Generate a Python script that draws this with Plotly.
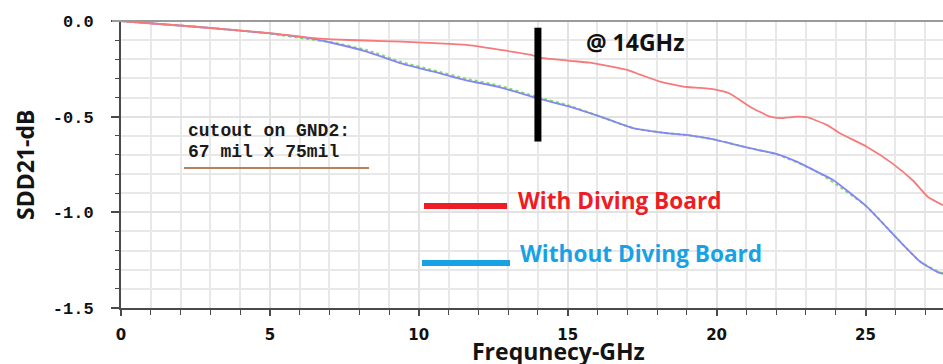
import plotly.graph_objects as go

# Differential insertion loss SDD21 vs frequency
red_freq = [0, 2.5, 5, 6.3, 7.1, 8.2, 9.4, 10.5, 11.6, 12.7, 13.8, 14.0, 15.0, 15.75,
            17.0, 17.43, 18.1, 19.0, 19.45, 20.0, 20.45, 21.12, 21.8, 22.13, 22.69,
            23.03, 23.7, 24.14, 25.04, 25.9, 26.6, 27.1, 27.6]
red_db = [0, -0.03, -0.063, -0.087, -0.096, -0.102, -0.108, -0.116, -0.125, -0.15, -0.178,
          -0.19, -0.207, -0.218, -0.256, -0.28, -0.317, -0.345, -0.35, -0.36, -0.38,
          -0.448, -0.50, -0.508, -0.50, -0.503, -0.543, -0.587, -0.657, -0.744, -0.835,
          -0.92, -0.963]

blue_freq = [0, 2.5, 5, 6.3, 7.1, 8.25, 9.37, 10.5, 11.6, 12.7, 14.0, 15.0, 16.1, 17.2,
             18.1, 19.1, 19.44, 20.0, 20.45, 21.12, 22.0, 22.69, 23.36, 23.9, 25.04,
             26.05, 26.83, 27.39, 27.6]
blue_db = [0, -0.03, -0.065, -0.09, -0.115, -0.16, -0.22, -0.265, -0.31, -0.345, -0.404,
           -0.445, -0.50, -0.56, -0.582, -0.598, -0.606, -0.622, -0.64, -0.665, -0.695,
           -0.735, -0.787, -0.83, -0.97, -1.135, -1.257, -1.31, -1.322]

# third (reference) trace, lying almost on top of the blue one
green_freq = [0, 2.5, 5, 6.3, 7.1, 8.25, 9.37, 10.5, 11.6, 12.7, 14.0, 15.0, 16.1, 17.2,
              18.1, 19.1, 20.0, 21.12, 22.0, 23.36, 25.04, 26.05, 26.83, 27.39, 27.6]
green_db = [0, -0.03, -0.066, -0.095, -0.112, -0.152, -0.212, -0.258, -0.302, -0.338,
            -0.398, -0.44, -0.50, -0.56, -0.582, -0.598, -0.622, -0.665, -0.695, -0.787,
            -0.97, -1.135, -1.257, -1.305, -1.318]

x_ticks = [0, 5, 10, 15, 20, 25]
y_ticks = [0.0, -0.5, -1.0, -1.5]
y_tick_text = ["0.0", "-0.5", "-1.0", "-1.5"]

marker_freq = 14
marker_top, marker_bottom = -0.035, -0.63

W, H = 943, 364
L, R, T, B = 121, 0, 21, 56
PW, PH = W - L - R, H - T - B


def px(xp):
    return (xp - L) / PW


def py(yp):
    return (H - B - yp) / PH


fig = go.Figure()
fig.add_trace(go.Scatter(x=green_freq, y=green_db, mode="lines",
                         line=dict(color="#7ee05a", width=2, dash="dot", shape="spline", smoothing=0.5),
                         hoverinfo="skip", showlegend=False))
fig.add_trace(go.Scatter(x=blue_freq, y=blue_db, mode="lines",
                         line=dict(color="#8585f6", width=1.8, shape="spline", smoothing=0.5),
                         showlegend=False))
fig.add_trace(go.Scatter(x=red_freq, y=red_db, mode="lines",
                         line=dict(color="#f77a7a", width=1.8, shape="spline", smoothing=0.5),
                         showlegend=False))

shapes = []
# white panels behind the notes
shapes.append(dict(type="rect", xref="paper", yref="paper", x0=px(176), x1=px(373),
                   y0=py(174), y1=py(113), fillcolor="white", line_width=0, layer="between"))
shapes.append(dict(type="rect", xref="paper", yref="paper", x0=px(394), x1=px(779),
                   y0=py(292), y1=py(166), fillcolor="white", line_width=0, layer="between"))
# top frame line
shapes.append(dict(type="line", xref="paper", yref="paper", x0=px(112), x1=1.0, y0=1.0, y1=1.0,
                   line=dict(color="#9a9a9a", width=2)))
# underline of the cutout note
shapes.append(dict(type="line", xref="paper", yref="paper", x0=px(184), x1=px(369),
                   y0=py(168), y1=py(168), line=dict(color="#b9805a", width=2)))
# 14 GHz marker bar
shapes.append(dict(type="line", xref="x", yref="y", x0=marker_freq, x1=marker_freq,
                   y0=marker_top, y1=marker_bottom, line=dict(color="black", width=7)))
# legend samples
shapes.append(dict(type="line", xref="paper", yref="paper", x0=px(424), x1=px(507),
                   y0=py(206), y1=py(206), line=dict(color="#ee1c25", width=6)))
shapes.append(dict(type="line", xref="paper", yref="paper", x0=px(422), x1=px(510),
                   y0=py(263), y1=py(263), line=dict(color="#18a2e6", width=6)))

ann = []
ann.append(dict(text="SDD21-dB", xref="paper", yref="paper", x=px(25), y=py(165),
                textangle=-90, showarrow=False, xanchor="center", yanchor="middle",
                font=dict(family="Open Sans", size=23, color="#141414", weight="bold")))
ann.append(dict(text="Frequnecy-GHz", xref="paper", yref="paper", x=px(558), y=py(351),
                showarrow=False, xanchor="center", yanchor="middle",
                font=dict(family="Open Sans", size=23, color="#141414", weight="bold")))
ann.append(dict(text="@ 14GHz", xref="paper", yref="paper", x=px(584), y=py(42),
                showarrow=False, xanchor="left", yanchor="middle",
                font=dict(family="Open Sans", size=23, color="#111111", weight="bold")))
ann.append(dict(text="With Diving Board", xref="paper", yref="paper", x=px(516), y=py(200),
                showarrow=False, xanchor="left", yanchor="middle",
                font=dict(family="Open Sans", size=22.6, color="#ee1c25", weight="bold")))
ann.append(dict(text="Without Diving Board", xref="paper", yref="paper", x=px(518), y=py(253),
                showarrow=False, xanchor="left", yanchor="middle",
                font=dict(family="Open Sans", size=22.6, color="#18a2e6", weight="bold")))
ann.append(dict(text="<b>cutout on GND2:</b>", xref="paper", yref="paper", x=px(186), y=py(131),
                showarrow=False, xanchor="left", yanchor="middle",
                font=dict(family="Liberation Mono", size=18, color="#1a1a1a")))
ann.append(dict(text="<b>67 mil x 75mil</b>", xref="paper", yref="paper", x=px(186), y=py(152),
                showarrow=False, xanchor="left", yanchor="middle",
                font=dict(family="Liberation Mono", size=18, color="#1a1a1a")))

fig.update_layout(
    width=W, height=H,
    margin=dict(l=L, r=R, t=T, b=B, pad=0),
    paper_bgcolor="white", plot_bgcolor="white",
    shapes=shapes, annotations=ann,
    showlegend=False,
)
fig.update_xaxes(
    range=[0, PW / 29.78], tickvals=x_ticks, ticktext=[str(v) for v in x_ticks],
    showgrid=True, gridcolor="#e2e2e2", gridwidth=1.5,
    showline=True, linecolor="#4a4a4a", linewidth=2,
    ticks="outside", ticklen=6, tickcolor="#4a4a4a", tickwidth=1.5,
    minor=dict(dtick=1, showgrid=True, gridcolor="#e8e8e8", gridwidth=1.5,
               ticks="outside", ticklen=5, tickcolor="#4a4a4a", tickwidth=1.2),
    tickfont=dict(family="DejaVu Sans", size=15, color="#111111", weight="bold"),
    ticklabelstandoff=6, zeroline=False, fixedrange=True,
)
fig.update_yaxes(
    range=[-1.5, 0], tickvals=y_ticks, ticktext=y_tick_text,
    showgrid=True, gridcolor="#e2e2e2", gridwidth=1.5,
    showline=True, linecolor="#4a4a4a", linewidth=2,
    ticks="outside", ticklen=8, tickcolor="#4a4a4a", tickwidth=1.5,
    minor=dict(dtick=0.1, showgrid=True, gridcolor="#e8e8e8", gridwidth=1.5,
               ticks="outside", ticklen=4, tickcolor="#4a4a4a", tickwidth=1.2),
    tickfont=dict(family="Liberation Mono", size=17, color="#111111", weight="bold"),
    ticklabelstandoff=14, zeroline=False, fixedrange=True,
)

fig.write_html("out.html")
